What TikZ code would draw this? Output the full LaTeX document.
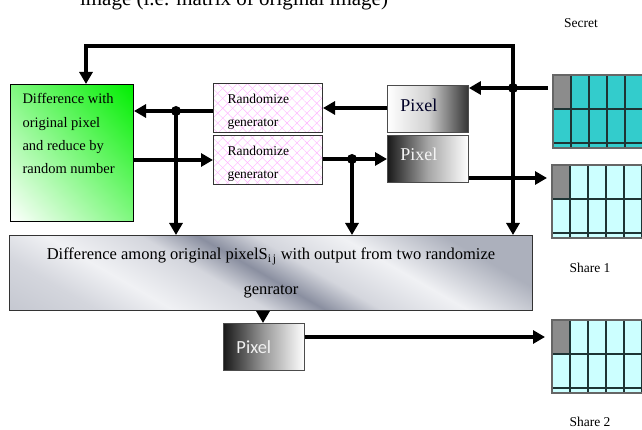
\documentclass[tikz,border=0pt]{standalone}
\usepackage{fontspec}
\setmainfont{Liberation Serif}
\newfontfamily\calfont{Carlito}
\usetikzlibrary{arrows.meta,patterns.meta,shadings}
\definecolor{teal1}{HTML}{33CCCC}
\definecolor{cyan1}{HTML}{CCFFFF}
\definecolor{cellgray}{HTML}{8C8C8C}
\definecolor{gridln}{HTML}{1E3434}
\definecolor{green1}{HTML}{00EE00}
\definecolor{green2}{HTML}{80F880}
\definecolor{sva}{RGB}{172,176,188}
\definecolor{svb}{RGB}{212,214,221}
\definecolor{svc}{RGB}{240,241,244}
\definecolor{svd}{RGB}{138,143,160}
\pgfdeclareverticalshading{silver}{100bp}{color(0bp)=(sva); color(25bp)=(svb); color(33bp)=(svc); color(43bp)=(svb); color(49bp)=(svd); color(55bp)=(svb); color(64bp)=(svc); color(75bp)=(sva); color(100bp)=(sva)}
\newcommand\gridcells[3]{%
  \fill[#3] (#1,#2) rectangle ++(95,73);
  \fill[cellgray] (#1,#2) rectangle ++(18,34);
  \foreach \k in {1,...,5} \draw[gridln, line width=1.1pt] ({#1+18*\k},#2) -- ++(0,73);
  \foreach \r in {34,68} \draw[gridln, line width=1.1pt] (#1,{#2+\r}) -- ++(95,0);
  \draw[black!60, line width=1.1pt] (#1,#2) rectangle ++(95,73);
}
\begin{document}
\begin{tikzpicture}[x=1pt,y=-1pt,
  arr/.style={line width=4pt, -{Triangle[length=12pt,width=13pt]}},
  jdot/.style={circle, fill=black, inner sep=0pt, minimum size=10pt},
  boxbase/.style={anchor=north west, inner sep=0pt},
  randbox/.style={boxbase, draw=black!80, line width=1pt,
    preaction={fill=white},
    preaction={pattern={Lines[angle=45,distance=7pt,line width=0.4pt]}, pattern color=magenta!30},
    preaction={pattern={Lines[angle=-45,distance=7pt,line width=0.4pt]}, pattern color=magenta!30},
    minimum width=109pt, minimum height=49pt, inner xsep=14pt, text width=81pt, align=left,
    font=\fontsize{13.5}{23}\selectfont},
  pixbox/.style={boxbase, draw=black!70, line width=0.9pt, minimum width=81pt, minimum height=47pt,
    inner xsep=13pt, text width=55pt, align=left, font=\fontsize{18}{20}\selectfont},
  lbl/.style={font=\fontsize{13.5}{15}\selectfont}
]
\useasboundingbox (0,0) rectangle (642,430);
\clip (0,0) rectangle (642,430);
\fill[white] (0,0) rectangle (642,430);

% title (cut off at top, as in the reference)
\node[anchor=base, font=\fontsize{21}{24}\selectfont, inner sep=0pt] (title) at (234,5.5) {image (i.e. matrix of original image)};

% boxes
\node[boxbase, draw=black, line width=1pt, minimum width=123pt, minimum height=137pt,
  upper left=green2, upper right=green1, lower left=white, lower right=green2] (g) at (10,84)
  {\begin{minipage}[c][137pt][t]{123pt}\vspace*{9pt}\leftskip=12pt\fontsize{14.5}{23.3}\selectfont
   Difference with\\original pixel\\and reduce by\\random number\end{minipage}};

\node[randbox] (r1) at (213,83) {\rule{0pt}{16pt}Randomize\\generator};
\node[randbox] (r2) at (213,135) {\rule{0pt}{16pt}Randomize\\generator};

\node[pixbox, left color=white, right color=black!80, middle color=black!18, text=black!85!blue] (p1) at (387,85)
  {\raisebox{4pt}[\height][\depth]{Pixel}};
\node[pixbox, left color=black!90, right color=white, middle color=black!35, text=black!4] (p2) at (387,135)
  {\raisebox{5pt}[\height][\depth]{Pixel}};

\node[boxbase, draw=black!80, line width=1pt, minimum width=523pt, minimum height=75pt,
  shading=silver, shading angle=-30, align=center, font=\fontsize{16.5}{35}\selectfont] (m) at (9,235)
  {Difference among original pixelS\textsubscript{i\,j} with output from two randomize\\genrator};

\node[pixbox, left color=black!90, right color=white, middle color=black!40, text=black!6,
  font=\calfont\fontsize{18.5}{20}\selectfont] (p3) at (223,323) {Pixel};

% grids
\gridcells{553}{75}{teal1}
\gridcells{552}{165}{cyan1}
\gridcells{552}{320}{cyan1}
\coordinate (sec) at (553,75);
\coordinate (sh1) at (552,165);
\coordinate (sh2) at (552,320);

\node[lbl] (lsec) at (581,23) {Secret};
\node[lbl] (lsh1) at (590,268) {Share 1};
\node[lbl] (lsh2) at (590,422) {Share 2};

% junctions
\coordinate (jA) at (176,111);
\coordinate (jB) at (352,159);
\coordinate (jC) at (513,88);
\coordinate (top) at (513,46);

% connectors
\draw[arr] ([xshift=-5pt]sec |- jC) -- (p1.east |- jC);
\draw[arr] (jC) -- (top) -| (g.north -| 86,0);
\draw[arr] (jC) -- (m.north -| jC);
\draw[arr] (p1.west |- 0,108) -- (r1.east |- 0,108);
\draw[arr] (r1.west |- jA) -- (g.east |- jA);
\draw[arr] (jA) -- (m.north -| jA);
\draw[arr] (g.east |- 0,160) -- (r2.west |- 0,160);
\draw[arr] (r2.east |- jB) -- (p2.west |- jB);
\draw[arr] (jB) -- (m.north -| jB);
\draw[arr] (p2.east |- 0,178) -- ([xshift=-5pt]sh1 |- 0,178);
\draw[arr] (m.south -| 263,0) -- (p3.north -| 263,0);
\draw[arr] (p3.east |- 0,337) -- ([xshift=-7pt]sh2 |- 0,337);

\node[jdot] at (jA) {};
\node[jdot] at (jB) {};
\node[jdot] at (jC) {};
\end{tikzpicture}
\end{document}
